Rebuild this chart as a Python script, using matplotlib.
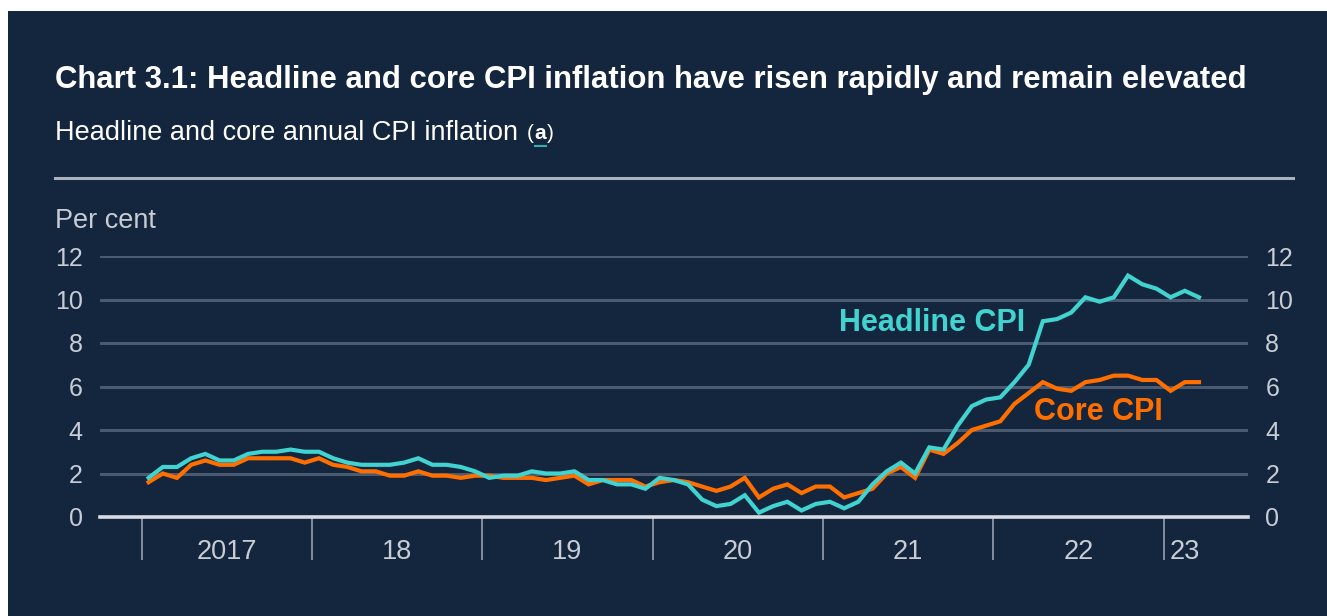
import matplotlib
matplotlib.use("Agg")
import matplotlib.pyplot as plt
from matplotlib.patches import Rectangle
from matplotlib.lines import Line2D
import numpy as np

plt.rcParams['font.family'] = ['Liberation Sans', 'DejaVu Sans']

# ---- data (monthly, Jan 2017 - Mar 2023) ----
headline = [1.8, 2.3, 2.3, 2.7, 2.9, 2.6, 2.6, 2.9, 3.0, 3.0, 3.1, 3.0,
            3.0, 2.7, 2.5, 2.4, 2.4, 2.4, 2.5, 2.7, 2.4, 2.4, 2.3, 2.1,
            1.8, 1.9, 1.9, 2.1, 2.0, 2.0, 2.1, 1.7, 1.7, 1.5, 1.5, 1.3,
            1.8, 1.7, 1.5, 0.8, 0.5, 0.6, 1.0, 0.2, 0.5, 0.7, 0.3, 0.6,
            0.7, 0.4, 0.7, 1.5, 2.1, 2.5, 2.0, 3.2, 3.1, 4.2, 5.1, 5.4,
            5.5, 6.2, 7.0, 9.0, 9.1, 9.4, 10.1, 9.9, 10.1, 11.1, 10.7, 10.5,
            10.1, 10.4, 10.1]
core = [1.6, 2.0, 1.8, 2.4, 2.6, 2.4, 2.4, 2.7, 2.7, 2.7, 2.7, 2.5,
        2.7, 2.4, 2.3, 2.1, 2.1, 1.9, 1.9, 2.1, 1.9, 1.9, 1.8, 1.9,
        1.9, 1.8, 1.8, 1.8, 1.7, 1.8, 1.9, 1.5, 1.7, 1.7, 1.7, 1.4,
        1.6, 1.7, 1.6, 1.4, 1.2, 1.4, 1.8, 0.9, 1.3, 1.5, 1.1, 1.4,
        1.4, 0.9, 1.1, 1.3, 2.0, 2.3, 1.8, 3.1, 2.9, 3.4, 4.0, 4.2,
        4.4, 5.2, 5.7, 6.2, 5.9, 5.8, 6.2, 6.3, 6.5, 6.5, 6.3, 6.3,
        5.8, 6.2, 6.2]
year_labels = ['2017', '18', '19', '20', '21', '22', '23']
y_ticks = [0, 2, 4, 6, 8, 10, 12]

title = "Chart 3.1: Headline and core CPI inflation have risen rapidly and remain elevated"
subtitle = "Headline and core annual CPI inflation "

BG = '#14253e'
TEAL = '#40d3cf'
ORANGE = '#ff6f00'
GRID = '#4a5a70'
TXT = '#c8cdd5'

W, H, DPI = 1327, 616, 100
fig = plt.figure(figsize=(W / DPI, H / DPI), dpi=DPI, facecolor='white')

def fx(px):
    return px / W

def fy(py):
    return 1 - py / H

fig.patches.append(Rectangle((fx(8), 0), 1 - fx(8), fy(11), transform=fig.transFigure,
                             facecolor=BG, edgecolor='none', zorder=-10))

# axes: x in months since Jan 2017, year boundaries every 12
px_per_month = (1163.5 - 141.5) / 72
x0 = (100 - 141.5) / px_per_month
x1 = (1248 - 141.5) / px_per_month
ax = fig.add_axes([fx(100), fy(517), fx(1248) - fx(100), (517 - 256) / H])
ax.set_facecolor('none')
ax.set_xlim(x0, x1)
ax.set_ylim(0, 12)

months = np.arange(len(headline)) + 0.5
for v in y_ticks[1:]:
    ax.axhline(v, color=GRID, lw=2.2, zorder=1)
ax.axhline(0, color='#d8dce2', lw=2.6, zorder=3, clip_on=False)

ax.plot(months, core, color=ORANGE, lw=3.0, zorder=4, solid_joinstyle='miter', clip_on=False)
ax.plot(months, headline, color=TEAL, lw=3.0, zorder=5, solid_joinstyle='miter', clip_on=False)

for s in ax.spines.values():
    s.set_visible(False)

ax.set_yticks(y_ticks)
ax.set_yticklabels([str(v) for v in y_ticks])
ax.tick_params(axis='y', length=0, pad=12.5, labelsize=18, labelcolor=TXT,
               left=False, right=False, labelleft=True, labelright=True)

bounds = [12 * i for i in range(7)]
centers = [12 * i + 6 for i in range(6)] + [73.5]
ax.set_xticks(bounds, minor=True)
ax.set_xticks(centers)
ax.set_xticklabels(year_labels)
ax.tick_params(axis='x', which='minor', length=31, width=1.3, color='#8d97a6', direction='out')
ax.tick_params(axis='x', which='major', length=0, pad=16, labelsize=19.5, labelcolor=TXT)

ax.text(55.7, 8.9, 'Headline CPI', color=TEAL, fontsize=22, fontweight='bold',
        ha='center', va='center', zorder=6)
ax.text(67.4, 4.85, 'Core CPI', color=ORANGE, fontsize=22, fontweight='bold',
        ha='center', va='center', zorder=6)

# title, fitted to its width in the reference
t = fig.text(fx(55), fy(80), title, color='white', fontsize=22, fontweight='bold',
             ha='left', va='center')
fig.canvas.draw()
r = fig.canvas.get_renderer()
bb = t.get_window_extent(r)
t.set_fontsize(22 * (1248 - 55) / bb.width)

st = fig.text(fx(55), fy(133), subtitle, color='white', fontsize=19.5,
              ha='left', va='center')
fig.canvas.draw()
bb = st.get_window_extent(r)
xa = bb.x1 + 1
p1 = fig.text(xa / W, fy(134), '(', color='white', fontsize=15, ha='left', va='center')
fig.canvas.draw()
b1 = p1.get_window_extent(r)
a = fig.text((b1.x1 + 1) / W, fy(134), 'a', color='white', fontsize=15, fontweight='bold',
             ha='left', va='center')
fig.canvas.draw()
b2 = a.get_window_extent(r)
fig.text((b2.x1 + 1) / W, fy(134), ')', color='white', fontsize=15, ha='left', va='center')
fig.lines.append(Line2D([b2.x0 / W, b2.x1 / W], [fy(146), fy(146)], transform=fig.transFigure,
                        color='#2bb3b0', lw=1.5))

fig.lines.append(Line2D([fx(55), fx(1293)], [fy(178), fy(178)], transform=fig.transFigure,
                        color='#a9b2bd', lw=2.2))

fig.text(fx(55), fy(221), 'Per cent', color=TXT, fontsize=19.5, ha='left', va='center')

fig.savefig('out.png', dpi=DPI, facecolor='white')
